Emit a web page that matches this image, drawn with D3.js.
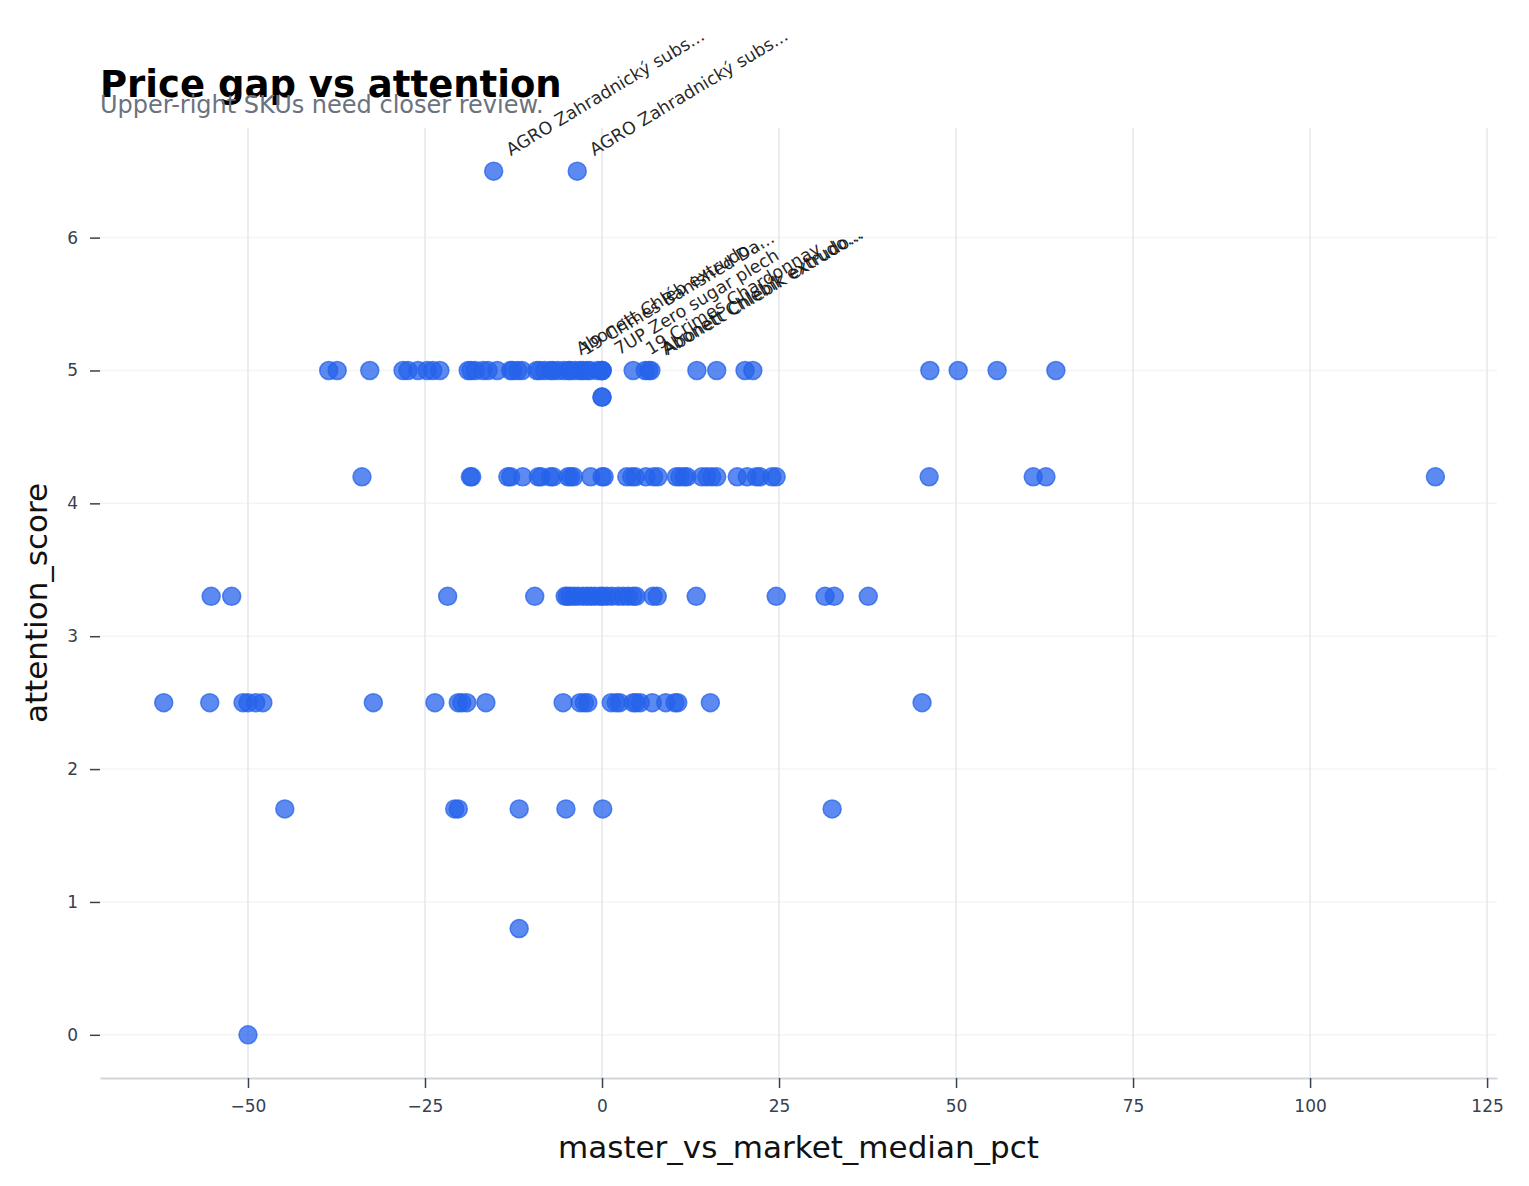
<!DOCTYPE html>
<html>
<head>
<meta charset="utf-8">
<script src="https://cdn.jsdelivr.net/npm/d3@7"></script>
<style>
  body { margin: 0; background: #fff; }
  text { font-family: "DejaVu Sans", sans-serif; }
</style>
</head>
<body>
<div id="vis_canvas"></div>
<script>
// data, one array per attention level (x = master_vs_market_median_pct)
var rowScores = [6.5, 5, 4.8, 4.2, 3.3, 2.5, 1.7, 0.8, 0];
var gap_65 = [-15.3, -3.5];
var gap_50 = [-38.6, -37.4, -32.8, -28.1, -27.4, -26.0, -24.7, -23.9, -22.9, -18.9, -18.5, -17.9,
  -16.8, -16.1, -14.8, -12.9, -12.6, -11.9, -11.3, -9.2, -8.8, -8.1, -7.3, -6.9, -6.2, -5.4, -4.7,
  -4.5, -3.8, -3.1, -2.7, -2.1, -1.7, -0.6, 0, 0, 0, 4.4, 6.1, 6.6, 6.9, 13.4, 16.2, 20.2, 21.3,
  46.3, 50.3, 55.8, 64.1];
var gap_48 = [0, 0];
var gap_42 = [-33.9, -18.6, -18.4, -13.3, -12.9, -11.2, -9.0, -8.6, -7.3, -6.9, -4.8, -4.4, -4.0,
  -1.6, 0, 0.3, 3.5, 4.2, 4.7, 6.2, 7.3, 7.9, 10.5, 11.0, 11.6, 12.0, 14.1, 14.8, 15.5, 16.2, 19.1,
  20.5, 21.8, 22.3, 24.0, 24.6, 46.2, 60.9, 62.7, 117.7];
var gap_33 = [-55.2, -52.3, -21.8, -9.5, -5.2, -4.9, -4.5, -3.95, -3.4, -2.7, -2.1, -1.55, -1.0,
  -0.3, 0.1, 0.7, 1.4, 2.3, 3.0, 3.7, 4.4, 4.8, 7.2, 7.8, 13.3, 24.6, 31.5, 32.8, 37.6];
var gap_25 = [-61.9, -55.4, -50.7, -50.0, -48.9, -47.9, -32.3, -23.6, -20.3, -19.8, -19.1, -16.4,
  -5.5, -3.1, -2.5, -2.0, 1.3, 2.0, 2.5, 4.4, 4.8, 5.4, 7.1, 9.0, 10.3, 10.7, 15.3, 45.2];
var gap_17 = [-44.8, -20.8, -20.3, -11.7, -5.1, 0.1, 32.5];
var gap_08 = [-11.7];
var gap_00 = [-50];
var rowGaps = [gap_65, gap_50, gap_48, gap_42, gap_33, gap_25, gap_17, gap_08, gap_00];

// labelled SKUs
var labelText = ["AGRO Zahradnický subs...", "AGRO Zahradnický subs...", "Abonett Chléb extrudo...",
  "19 Crimes Banished Da...", "7UP Zero sugar plech", "19 Crimes Chardonnay",
  "Abonett Chlebík extrudo...", "Abonett Chlebík extrudo..."];
var labelGap = [-15.3, -3.5, -5.4, -4.7, 0, 4.4, 6.6, 6.9];
var labelScore = [6.5, 6.5, 5, 5, 5, 5, 5, 5];

var xTicks = [-50, -25, 0, 25, 50, 75, 100, 125];
var yTicks = [0, 1, 2, 3, 4, 5, 6];

var scdata = [];
rowScores.forEach(function(s, i) {
  rowGaps[i].forEach(function(g) { scdata.push({gap: g, score: s}); });
});

var W = 1529, H = 1186;
var mLeft = 100, mRight = 1497, mTop = 128, mBottom = 1078;

var x = d3.scaleLinear().domain([-70.9, 126.4]).range([mLeft, mRight]);
var y = d3.scaleLinear().domain([-0.325, 6.825]).range([mBottom, mTop]);

var svg = d3.select("#vis_canvas").append("svg")
  .attr("width", W).attr("height", H);

// grid
svg.append("g").selectAll("line").data(yTicks).enter().append("line")
  .attr("x1", mLeft).attr("x2", mRight)
  .attr("y1", function(d) { return y(d); }).attr("y2", function(d) { return y(d); })
  .attr("stroke", "#f3f4f6").attr("stroke-width", 1.5);
svg.append("g").selectAll("line").data(xTicks).enter().append("line")
  .attr("y1", mTop).attr("y2", mBottom)
  .attr("x1", function(d) { return x(d); }).attr("x2", function(d) { return x(d); })
  .attr("stroke", "#e5e7eb").attr("stroke-width", 1.5);

// axes
var xAxis = svg.append("g").attr("transform", "translate(0," + mBottom + ")")
  .call(d3.axisBottom(x).tickValues(xTicks).tickSize(10).tickPadding(12).tickSizeOuter(0));
xAxis.select(".domain").attr("stroke", "#d1d5db").attr("stroke-width", 2);
xAxis.selectAll(".tick line").attr("stroke", "#374151").attr("stroke-width", 1.5);
xAxis.selectAll(".tick text").attr("fill", "#374151").style("font-size", "17px");

var yAxis = svg.append("g").attr("transform", "translate(" + mLeft + ",0)")
  .call(d3.axisLeft(y).tickValues(yTicks).tickSize(10).tickPadding(12));
yAxis.select(".domain").remove();
yAxis.selectAll(".tick line").attr("stroke", "#374151").attr("stroke-width", 1.5);
yAxis.selectAll(".tick text").attr("fill", "#374151").style("font-size", "17px");

// points
svg.append("g").selectAll(".pt").data(scdata).enter().append("circle")
  .attr("class", "pt")
  .attr("cx", function(d) { return x(d.gap); })
  .attr("cy", function(d) { return y(d.score); })
  .attr("r", 9)
  .attr("fill", "#2563eb").attr("fill-opacity", 0.75)
  .attr("stroke", "#2563eb").attr("stroke-opacity", 0.75).attr("stroke-width", 1.5);

// annotations
svg.append("g").selectAll("text").data(labelText).enter().append("text")
  .attr("transform", function(d, i) {
    return "translate(" + (x(labelGap[i]) + 17) + "," + (y(labelScore[i]) - 15) + ") rotate(-31)";
  })
  .style("font-size", "17.5px").attr("fill", "#111").attr("fill-opacity", 0.92)
  .text(function(d) { return d; });

// titles
svg.append("text").attr("x", 100).attr("y", 97)
  .style("font-size", "37px").style("font-weight", "bold").attr("fill", "#000")
  .text("Price gap vs attention");
svg.append("text").attr("x", 100).attr("y", 113)
  .style("font-size", "24px").attr("fill", "#6b7280")
  .text("Upper-right SKUs need closer review.");

svg.append("text").attr("x", (mLeft + mRight) / 2).attr("y", 1158)
  .attr("text-anchor", "middle").style("font-size", "31px").attr("fill", "#111")
  .text("master_vs_market_median_pct");
svg.append("text").attr("transform", "translate(47," + ((mTop + mBottom) / 2) + ") rotate(-90)")
  .attr("text-anchor", "middle").style("font-size", "31px").attr("fill", "#111")
  .text("attention_score");
</script>
</body>
</html>
